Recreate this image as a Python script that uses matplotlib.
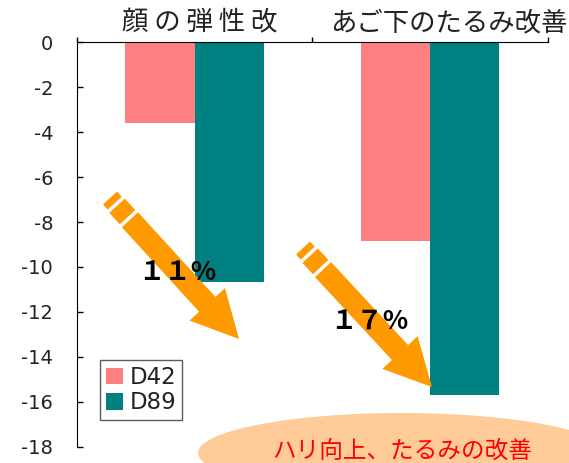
import matplotlib
matplotlib.use('Agg')
import matplotlib.pyplot as plt
import numpy as np
from matplotlib.patches import Polygon, Ellipse

plt.rcParams['font.family'] = ['Noto Sans CJK JP', 'DejaVu Sans']
plt.rcParams['axes.unicode_minus'] = False

# データ
categories = ['顔 の 弾 性 改', 'あご下のたるみ改善']
d42 = [-3.6, -8.85]
d89 = [-10.65, -15.7]
series_names = ['D42', 'D89']
yticks = list(range(0, -19, -2))
pct_labels = ['１１%', '１７%']
message = 'ハリ向上、たるみの改善'

W, H = 569, 463
fig = plt.figure(figsize=(W / 100, H / 100), dpi=100)
ax = fig.add_axes([76.7 / W, 1 - 446.7 / H, (548 - 76.7) / W, (446.7 - 42.3) / H])

x = np.arange(len(categories))
bw = 0.293
ax.bar(x - bw / 2, d42, bw, color='#FF8080', label=series_names[0])
ax.bar(x + bw / 2, d89, bw, color='#008080', label=series_names[1])

ax.set_xlim(-0.5, len(categories) - 0.5)
ax.set_ylim(-18, 0)
ax.set_yticks(yticks)
ax.tick_params(axis='y', direction='in', length=4, width=1, labelsize=14, pad=17)
for lab in ax.get_yticklabels():
    lab.set_fontfamily('DejaVu Sans')
    lab.set_color('#222222')

# x軸は上側、区切りの位置に目盛り
ax.xaxis.set_ticks_position('top')
ax.set_xticks(np.arange(-0.5, len(categories), 1.0))
ax.set_xticklabels([])
ax.tick_params(axis='x', direction='out', length=3.5, width=1)

ax.spines['right'].set_visible(False)
ax.spines['bottom'].set_visible(False)
ax.spines['left'].set_bounds(-18, 0)

# カテゴリ名
label_x = [0.02, 1.08]
for lx, name in zip(label_x, categories):
    ax.text(lx, 1.047, name, transform=ax.get_xaxis_transform(),
            ha='center', va='center', fontsize=19, color='#222222', clip_on=False)

leg = ax.legend(loc='lower left', bbox_to_anchor=(0.049, 0.066),
                prop={'family': 'DejaVu Sans', 'size': 16.5},
                frameon=True, fancybox=False, handlelength=0.75, handleheight=0.75,
                handletextpad=0.3, borderpad=0.25, labelspacing=0.1,
                borderaxespad=0)
leg.get_frame().set_edgecolor('#333333')
leg.get_frame().set_linewidth(1)
for t in leg.get_texts():
    t.set_color('#222222')

# 注釈用のオーバーレイ（ピクセル座標）
ov = fig.add_axes([0, 0, 1, 1], facecolor='none')
ov.set_xlim(0, W)
ov.set_ylim(H, 0)
ov.axis('off')


def stripe_arrow(tail, tip, color='#FF9900'):
    t = np.array(tail, float)
    p = np.array(tip, float)
    L = np.linalg.norm(p - t)
    u = (p - t) / L
    n = np.array([-u[1], u[0]])

    def quad(s0, s1, w):
        return [t + u * s0 + n * w / 2, t + u * s1 + n * w / 2,
                t + u * s1 - n * w / 2, t + u * s0 - n * w / 2]

    sw, hw, hl = 22, 48, 47
    ov.add_patch(Polygon(quad(0, 7, 19), closed=True, color=color, lw=0))
    ov.add_patch(Polygon(quad(10.5, 26, 21), closed=True, color=color, lw=0))
    body = [t + u * 29.5 + n * sw / 2, t + u * (L - hl) + n * sw / 2,
            t + u * (L - hl) + n * hw / 2, p,
            t + u * (L - hl) - n * hw / 2, t + u * (L - hl) - n * sw / 2,
            t + u * 29.5 - n * sw / 2]
    ov.add_patch(Polygon(body, closed=True, color=color, lw=0))


stripe_arrow((110, 198), (239, 339))
stripe_arrow((303, 248), (432, 387))

ov.text(177, 272, pct_labels[0], ha='center', va='center', fontsize=19,
        color='black', fontweight='bold')
ov.text(369, 321, pct_labels[1], ha='center', va='center', fontsize=19,
        color='black', fontweight='bold')

ov.add_patch(Ellipse((402, 453), 408, 80, color='#FFCC99', lw=0))
ov.text(402, 451, message, ha='center', va='center', fontsize=17, color='#FF0000')

fig.savefig('out.png', dpi=100)
